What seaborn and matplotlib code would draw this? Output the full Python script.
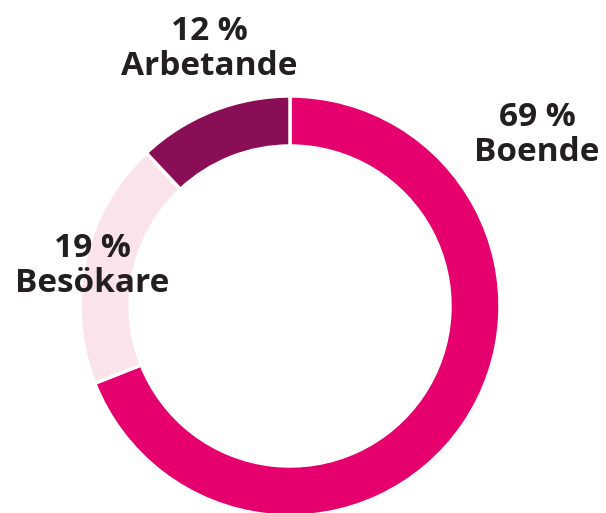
import matplotlib.pyplot as plt
import seaborn as sns

# chart data
labels = ["Boende", "Besökare", "Arbetande"]
shares = [69, 19, 12]
colors = ["#E5006D", "#FBE3EC", "#8A0E55"]

sns.set_theme(style="white")
plt.rcParams["font.family"] = ["Open Sans", "DejaVu Sans"]

fig = plt.figure(figsize=(6.06, 5.13), dpi=100)
ax = fig.add_axes([0, 0, 1, 1])

# donut, clockwise from the top
ax.pie(shares, colors=colors, startangle=90, counterclock=False,
       center=(290, 207), radius=210,
       wedgeprops=dict(width=50, edgecolor="white", linewidth=2.5))

# label positions (pixel coords, y up)
label_pos = {"Boende": (537, 378), "Besökare": (92, 247), "Arbetande": (209, 464)}
for lab, val in zip(labels, shares):
    x, y = label_pos[lab]
    ax.text(x, y, f"{val} %\n{lab}", ha="center", va="center",
            fontsize=24, fontweight="bold", color="#231F20",
            linespacing=1.1)

ax.set_xlim(0, 606)
ax.set_ylim(0, 513)
ax.set_aspect("equal")
ax.axis("off")

fig.savefig("out.png", dpi=100)
